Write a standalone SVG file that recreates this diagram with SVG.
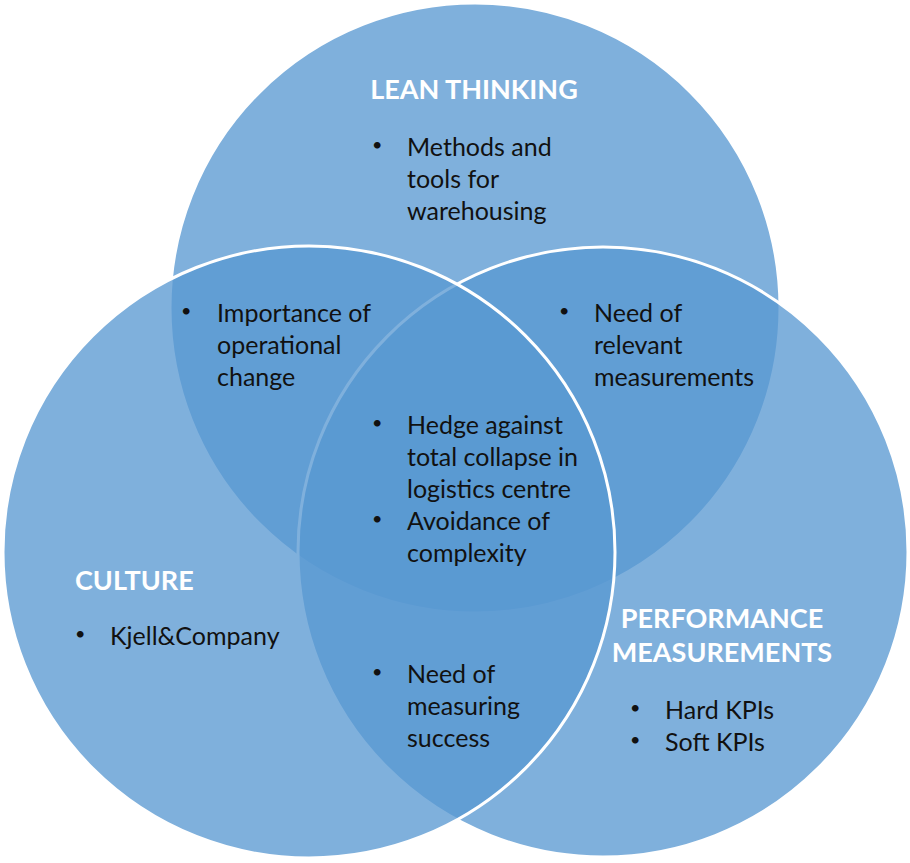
<svg xmlns="http://www.w3.org/2000/svg" width="910" height="863" viewBox="0 0 910 863">
  <style>
    .set { fill: #5998d2; fill-opacity: 0.77; stroke: #ffffff; stroke-width: 3; }
    .head { font-family: Lato, "Liberation Sans", sans-serif; font-weight: bold; font-size: 27px; fill: #ffffff; }
    .body { font-family: Lato, "Liberation Sans", sans-serif; font-size: 25px; fill: #111111; }
    .dot { font-family: Lato, "Liberation Sans", sans-serif; font-size: 18px; fill: #111111; }
  </style>
  <rect width="910" height="863" fill="#ffffff"/>

  <!-- Lean thinking -->
  <g id="lean-thinking">
    <circle class="set" cx="475" cy="308" r="305"/>
  </g>
  <!-- Performance measurements -->
  <g id="performance-measurements">
    <circle class="set" cx="603" cy="552" r="305"/>
  </g>
  <!-- Culture -->
  <g id="culture">
    <circle class="set" cx="309" cy="552" r="306"/>
  </g>

  <!-- Labels -->
  <g id="lean-thinking-text">
    <text class="head" x="474" y="99" text-anchor="middle">LEAN THINKING</text>
    <text class="dot" x="372" y="151">•</text>
    <text class="body" x="407" y="156">Methods and</text>
    <text class="body" x="407" y="188">tools for</text>
    <text class="body" x="407" y="220">warehousing</text>
  </g>
  <g id="lean-culture-text">
    <text class="dot" x="181" y="317">•</text>
    <text class="body" x="217" y="322">Importance of</text>
    <text class="body" x="217" y="354">operational</text>
    <text class="body" x="217" y="386">change</text>
  </g>
  <g id="lean-performance-text">
    <text class="dot" x="559" y="317">•</text>
    <text class="body" x="594" y="322">Need of</text>
    <text class="body" x="594" y="354">relevant</text>
    <text class="body" x="594" y="386">measurements</text>
  </g>
  <g id="centre-text">
    <text class="dot" x="372" y="429">•</text>
    <text class="body" x="407" y="434">Hedge against</text>
    <text class="body" x="407" y="466">total collapse in</text>
    <text class="body" x="407" y="498">logistics centre</text>
    <text class="dot" x="372" y="525">•</text>
    <text class="body" x="407" y="530">Avoidance of</text>
    <text class="body" x="407" y="562">complexity</text>
  </g>
  <g id="culture-text">
    <text class="head" x="75" y="590">CULTURE</text>
    <text class="dot" x="75" y="640">•</text>
    <text class="body" x="110" y="645">Kjell&amp;Company</text>
  </g>
  <g id="culture-performance-text">
    <text class="dot" x="372" y="678">•</text>
    <text class="body" x="407" y="683">Need of</text>
    <text class="body" x="407" y="715">measuring</text>
    <text class="body" x="407" y="747">success</text>
  </g>
  <g id="performance-text">
    <text class="head" x="722" y="628" text-anchor="middle">PERFORMANCE</text>
    <text class="head" x="722" y="662" text-anchor="middle">MEASUREMENTS</text>
    <text class="dot" x="630" y="714">•</text>
    <text class="body" x="665" y="719">Hard KPIs</text>
    <text class="dot" x="630" y="746">•</text>
    <text class="body" x="665" y="751">Soft KPIs</text>
  </g>
</svg>
